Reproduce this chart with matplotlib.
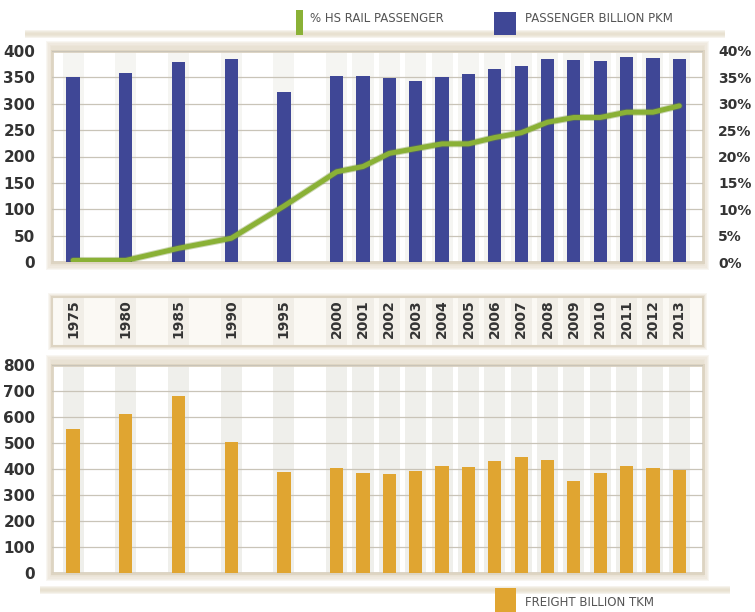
import matplotlib
matplotlib.use("Agg")
import matplotlib.pyplot as plt
from matplotlib.patches import Rectangle
import numpy as np

years = ["1975", "1980", "1985", "1990", "1995", "2000", "2001", "2002", "2003", "2004",
         "2005", "2006", "2007", "2008", "2009", "2010", "2011", "2012", "2013"]
# positions: 5-year steps take two slots, yearly steps one slot
positions = [0, 2, 4, 6, 8, 10, 11, 12, 13, 14, 15, 16, 17, 18, 19, 20, 21, 22, 23]
passenger_pkm = [351, 358, 380, 385, 322, 352, 352, 348, 344, 350, 356, 366, 371,
                 385, 383, 381, 388, 386, 385]
hs_share_pct = [0.3, 0.3, 2.6, 4.5, 10.6, 17.1, 18.1, 20.6, 21.5, 22.4, 22.4, 23.6,
                24.5, 26.5, 27.4, 27.4, 28.4, 28.4, 29.6]
freight_tkm = [555, 612, 682, 505, 389, 402, 384, 380, 392, 412, 408, 431, 446,
               434, 354, 384, 412, 402, 398]

BLUE = "#3F4796"
ORANGE = "#E0A531"
GREEN = "#8AB136"
TXT = "#333333"
GRID = "#C9C4B8"
FRAME = "#DDD4C2"

W, H = 755, 612
fig = plt.figure(figsize=(W / 100, H / 100), dpi=100)
fig.patch.set_facecolor("white")

def fx(px):
    return px / W

def fy(py):
    return 1 - py / H

def shadow_box(x0, y0, x1, y1, color="#E2D8C4", steps=5, pad=6):
    # soft beige frame around a panel (pixel coords, y from top)
    for i in range(steps):
        p = pad * (steps - i) / steps
        fig.patches.append(Rectangle((fx(x0 - p), fy(y1 + p)), fx(x1 - x0 + 2 * p),
                                     (y1 - y0 + 2 * p) / H, transform=fig.transFigure,
                                     facecolor=color, edgecolor="none", alpha=0.22, zorder=-10))

def hband(x0, x1, yc, h=8, color="#E2D9C5"):
    for i in range(4):
        hh = h * (4 - i) / 4
        fig.patches.append(Rectangle((fx(x0), fy(yc + hh / 2)), fx(x1 - x0), hh / H,
                                     transform=fig.transFigure, facecolor=color,
                                     edgecolor="none", alpha=0.3, zorder=-10))

xlim = (-0.8, 23.9)
L, R = 52, 703

# ---------- top panel ----------
top_y0, top_y1 = 51, 262
shadow_box(L, top_y0 - 4, R, top_y1 + 2)
ax = fig.add_axes([fx(L), fy(top_y1), fx(R - L), (top_y1 - top_y0) / H])
ax.set_facecolor("white")
ax.bar(positions, [400] * len(positions), width=0.8, color="#F5F5F2", zorder=0)
ax.bar(positions, passenger_pkm, width=0.5, color=BLUE, zorder=3)
ax.set_xlim(*xlim)
ax.set_ylim(0, 400)
ax.set_yticks(np.arange(0, 401, 50))
ax.yaxis.grid(True, color=GRID, linewidth=0.9, zorder=1)
ax.set_axisbelow(False)
ax.set_xticks([])
ax.tick_params(axis="y", length=0, pad=12, labelsize=11, labelcolor=TXT)
for lab in ax.get_yticklabels():
    lab.set_fontweight("bold")
for s in ax.spines.values():
    s.set_color(FRAME)
    s.set_linewidth(2)

ax2 = ax.twinx()
ax2.plot(positions, hs_share_pct, color="#6E8E2A", linewidth=5, alpha=0.35,
         solid_capstyle="round", solid_joinstyle="round", zorder=4)
ax2.plot(positions, hs_share_pct, color=GREEN, linewidth=3.6,
         solid_capstyle="round", solid_joinstyle="round", zorder=5)
ax2.set_ylim(0, 40)
ax2.set_yticks(np.arange(0, 41, 5))
ax2.set_yticklabels([f"{v}%" for v in range(0, 41, 5)])
ax2.tick_params(axis="y", length=0, pad=11, labelsize=10, labelcolor=TXT)
for lab in ax2.get_yticklabels():
    lab.set_fontweight("bold")
for s in ax2.spines.values():
    s.set_visible(False)

# ---------- middle year label panel ----------
mid_y0, mid_y1 = 297, 346
shadow_box(L, mid_y0, R, mid_y1, pad=4)
axm = fig.add_axes([fx(L), fy(mid_y1), fx(R - L), (mid_y1 - mid_y0) / H])
axm.set_facecolor("#FBF9F4")
axm.bar(positions, [1] * len(positions), width=0.8, color="#F1EEE7", zorder=0)
axm.set_xlim(*xlim)
axm.set_ylim(0, 1)
axm.set_xticks([])
axm.set_yticks([])
for s in axm.spines.values():
    s.set_color(FRAME)
    s.set_linewidth(1.5)
for p, yr in zip(positions, years):
    axm.text(p, 0.55, yr, rotation=90, ha="center", va="center", fontsize=10,
             fontweight="bold", color=TXT)

# ---------- bottom panel ----------
bot_y0, bot_y1 = 365, 573
shadow_box(L, bot_y0 - 4, R, bot_y1 + 2)
axb = fig.add_axes([fx(L), fy(bot_y1), fx(R - L), (bot_y1 - bot_y0) / H])
axb.set_facecolor("white")
axb.bar(positions, [800] * len(positions), width=0.8, color="#EFEFEB", zorder=0)
axb.bar(positions, freight_tkm, width=0.5, color=ORANGE, zorder=3)
axb.set_xlim(*xlim)
axb.set_ylim(0, 800)
axb.set_yticks(np.arange(0, 801, 100))
axb.yaxis.grid(True, color=GRID, linewidth=0.9, zorder=1)
axb.set_axisbelow(False)
axb.set_xticks([])
axb.tick_params(axis="y", length=0, pad=12, labelsize=11, labelcolor=TXT)
for lab in axb.get_yticklabels():
    lab.set_fontweight("bold")
for s in axb.spines.values():
    s.set_color(FRAME)
    s.set_linewidth(2)

# ---------- legends ----------
hband(25, 725, 34, h=8)
fig.patches.append(Rectangle((fx(296), fy(35)), fx(7), 25 / H, transform=fig.transFigure,
                             facecolor=GREEN, edgecolor="none", zorder=5))
fig.text(fx(310), fy(18), "% HS RAIL PASSENGER", fontsize=8.5, color="#555555",
         ha="left", va="center")
fig.patches.append(Rectangle((fx(494), fy(35)), fx(22), 23 / H, transform=fig.transFigure,
                             facecolor=BLUE, edgecolor="none", zorder=5))
fig.text(fx(525), fy(18), "PASSENGER BILLION PKM", fontsize=8.5, color="#555555",
         ha="left", va="center")

hband(40, 730, 590, h=8)
fig.patches.append(Rectangle((fx(495), fy(612)), fx(21), 24 / H, transform=fig.transFigure,
                             facecolor=ORANGE, edgecolor="none", zorder=5))
fig.text(fx(525), fy(602), "FREIGHT BILLION TKM", fontsize=8.5, color="#555555",
         ha="left", va="center")

fig.savefig("out.png", dpi=100)
